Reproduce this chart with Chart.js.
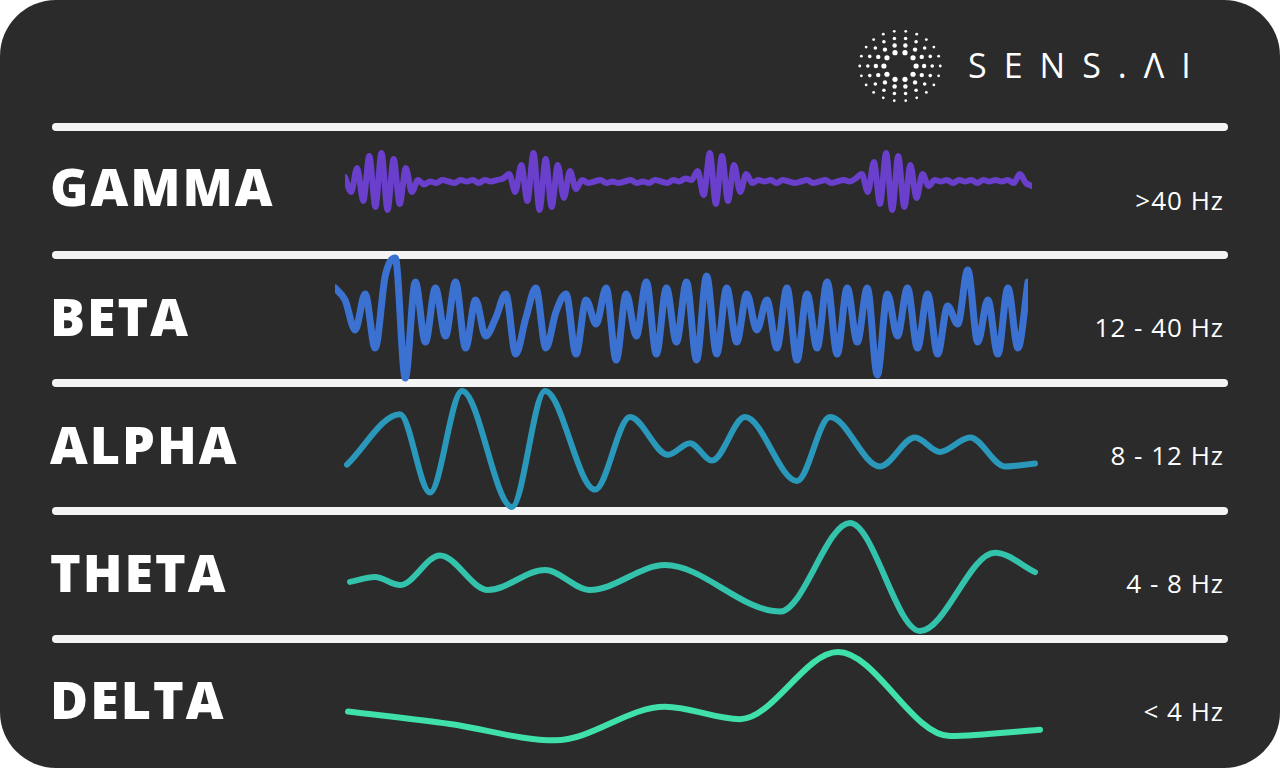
<!DOCTYPE html>
<html><head><meta charset="utf-8">
<script src="https://cdn.jsdelivr.net/npm/chart.js@4"></script>
<style>
html,body{margin:0;padding:0;background:#fff;width:1280px;height:768px;overflow:hidden;font-family:"Open Sans",sans-serif}
#card{position:absolute;left:0;top:0;width:1280px;height:768px;background:#2b2b2b;border-radius:56px}
.sep{position:absolute;left:52px;width:1176px;height:8px;background:#f4f4f4;border-radius:4px}
.lbl{position:absolute;left:50px;color:#fff;font-family:"Open Sans";font-weight:800;font-size:52px;letter-spacing:2px}
.hz{position:absolute;right:56px;color:#fff;font-family:"Open Sans";font-size:26px;letter-spacing:1px}
.wrap{position:absolute;height:160px}
#logo{position:absolute;left:968px;top:42px;color:#fff;font-family:"Open Sans";font-size:34px;letter-spacing:17px;font-weight:400}
</style></head><body>
<div id="card"></div>
<canvas id="icon" width="90" height="80" style="position:absolute;left:855px;top:26px"></canvas>
<div id="logo">SENS.ΛI</div>
<div class="sep" style="top:123px"></div>
<div class="sep" style="top:251px"></div>
<div class="sep" style="top:379px"></div>
<div class="sep" style="top:507px"></div>
<div class="sep" style="top:635px"></div>
<div class="lbl" style="top:150px">GAMMA</div>
<div class="lbl" style="top:280px">BETA</div>
<div class="lbl" style="top:408px">ALPHA</div>
<div class="lbl" style="top:536px">THETA</div>
<div class="lbl" style="top:663px">DELTA</div>
<div class="hz" style="top:182px">&gt;40 Hz</div>
<div class="hz" style="top:309px">12 - 40 Hz</div>
<div class="hz" style="top:437px">8 - 12 Hz</div>
<div class="hz" style="top:565px">4 - 8 Hz</div>
<div class="hz" style="top:693px">&lt; 4 Hz</div>
<div class="wrap" style="left:345px;width:687px;top:103px"><canvas id="c0"></canvas></div>
<div class="wrap" style="left:335px;width:693px;top:238px"><canvas id="c1"></canvas></div>
<div class="wrap" style="left:0;width:1280px;top:369px"><canvas id="c2"></canvas></div>
<div class="wrap" style="left:0;width:1280px;top:497px"><canvas id="c3"></canvas></div>
<div class="wrap" style="left:0;width:1280px;top:620px"><canvas id="c4"></canvas></div>
<script>
// Gamma (samples, amplitude)
const gamma=[0.2,-0.3,0.5,-0.6,0.9,-0.8,1.0,-0.9,0.8,-0.7,0.5,-0.3,
0.1,-0.05,0.05,0.0,0.1,0.05,0.0,0.1,0.05,0.1,0.0,0.1,0.05,0.1,0.15,
0.3,-0.3,0.6,-0.6,1.0,-0.9,0.8,-0.8,0.6,-0.5,0.4,-0.2,
0.1,0.0,0.05,0.1,0.0,0.05,0.0,0.05,0.1,0.0,0.05,0.0,0.1,0.05,0.0,0.1,0.05,0.15,0.1,
0.4,-0.4,1.0,-0.7,0.9,-0.6,0.6,-0.3,0.3,0.0,
0.1,0.05,0.1,0.0,0.1,0.05,0.0,0.05,0.1,0.0,0.05,0.1,0.0,0.05,0.1,0.05,0.15,
0.3,-0.3,0.7,-0.7,1.0,-0.9,0.9,-0.8,0.6,-0.5,0.3,-0.1,
0.1,0.05,0.1,0.0,0.1,0.05,0.1,0.0,0.1,0.05,0.1,0.05,0.1,0.0,0.3,0.0,-0.1];
// Beta
const beta=[0.5,0.3,-0.2,0.4,-0.5,0.7,1.0,-1.0,0.6,-0.4,0.5,-0.3,0.6,-0.5,0.3,-0.3,0.0,0.4,-0.6,0.0,0.5,-0.5,0.1,0.4,-0.6,0.3,-0.1,0.5,-0.7,0.4,-0.3,0.6,-0.6,0.5,-0.4,0.6,-0.7,0.7,-0.6,0.5,-0.4,0.4,-0.2,0.3,-0.5,0.5,-0.7,0.4,-0.5,0.6,-0.6,0.5,-0.4,0.5,-0.95,0.4,-0.3,0.5,-0.5,0.4,-0.6,0.2,-0.1,0.8,-0.4,0.3,-0.6,0.5,-0.5,0.6];
// Alpha extrema: time, amplitude
const alphaT=[347,400,430,462,512,545,595,630,668,690,712,745,797,830,880,915,940,970,1005,1035];
const alphaV=[-0.27,0.6,-0.75,1.0,-1.0,1.0,-0.7,0.55,-0.1,0.1,-0.2,0.55,-0.55,0.55,-0.3,0.2,-0.05,0.2,-0.3,-0.25];
// Theta
const thetaT=[350,375,400,440,488,545,590,665,780,850,920,995,1035];
const thetaV=[-0.09,0,-0.15,0.4,-0.24,0.13,-0.24,0.22,-0.64,1.0,-1.0,0.45,0.09];
// Delta
const deltaT=[348,450,555,665,740,838,950,1040];
const deltaV=[-0.24,-0.5,-0.84,-0.14,-0.4,1.0,-0.75,-0.62];

const base={responsive:true,maintainAspectRatio:false,animation:false,
 plugins:{legend:{display:false},tooltip:{enabled:false}},layout:{padding:0},
 elements:{point:{radius:0},line:{borderCapStyle:'round',borderJoinStyle:'round'}}};
function cat(id,vals,color,amp,w){
 new Chart(document.getElementById(id),{type:'line',
  data:{labels:vals.map((_,i)=>i),datasets:[{data:vals,borderColor:color,borderWidth:w,cubicInterpolationMode:'monotone'}]},
  options:{...base,scales:{x:{display:false,offset:false},y:{display:false,min:-80/amp,max:80/amp}}}});
}
function lin(id,ts,vals,color,amp,w){
 new Chart(document.getElementById(id),{type:'line',
  data:{datasets:[{data:ts.map((t,i)=>({x:t,y:vals[i]})),borderColor:color,borderWidth:w,cubicInterpolationMode:'monotone'}]},
  options:{...base,scales:{x:{type:'linear',display:false,min:0,max:1280},y:{display:false,min:-80/amp,max:80/amp}}}});
}
cat('c0',gamma,'#6a3fcc',30,6);
cat('c1',beta,'#3b72d2',60,7);
lin('c2',alphaT,alphaV,'#2a98bb',58,6);
lin('c3',thetaT,thetaV,'#33c2ab',54,6);
lin('c4',deltaT,deltaV,'#3fe0aa',48,6);

// logo icon
const ic=document.getElementById('icon').getContext('2d');ic.fillStyle='#fff';
for(let r=0;r<4;r++){const rad=14+r*7;const n=10+r*4;for(let k=0;k<n;k++){const a=k/n*Math.PI*2;
 ic.beginPath();ic.arc(45+Math.cos(a)*rad*1.15,40+Math.sin(a)*rad,2.6-r*0.4,0,7);ic.fill();}}
</script>
</body></html>
